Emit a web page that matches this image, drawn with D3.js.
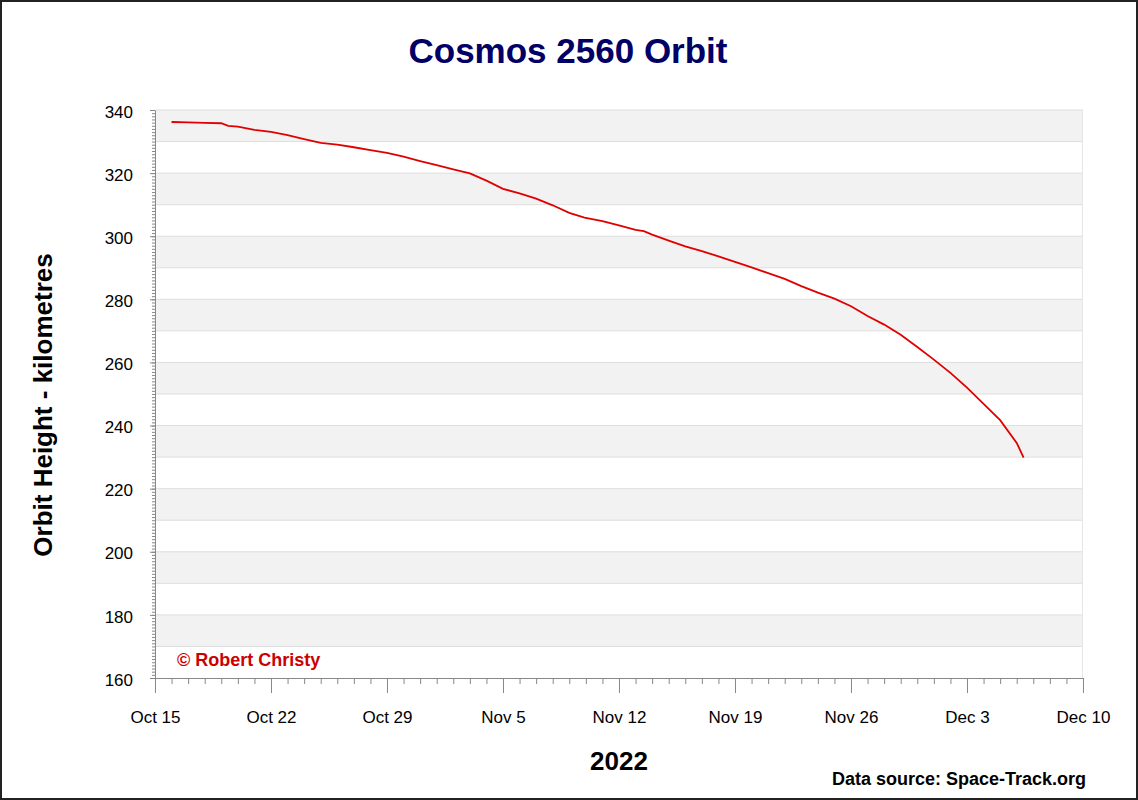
<!DOCTYPE html>
<html><head><meta charset="utf-8">
<script src="https://cdn.jsdelivr.net/npm/d3@7"></script>
<style>
html,body{margin:0;padding:0;background:#fff;}
svg{display:block;font-family:"Liberation Sans",Arial,sans-serif;}
</style></head>
<body>
<script>
const dates = ["2022-10-16T00:00","2022-10-17T00:00","2022-10-18T00:00","2022-10-19T00:00","2022-10-19T10:00","2022-10-20T00:00","2022-10-21T00:00","2022-10-22T00:00","2022-10-23T00:00","2022-10-24T00:00","2022-10-25T00:00","2022-10-26T00:00","2022-10-27T00:00","2022-10-28T00:00","2022-10-29T00:00","2022-10-30T00:00","2022-10-31T00:00","2022-11-01T00:00","2022-11-02T00:00","2022-11-03T00:00","2022-11-04T00:00","2022-11-05T00:00","2022-11-06T00:00","2022-11-07T00:00","2022-11-08T00:00","2022-11-09T00:00","2022-11-09T22:00","2022-11-11T00:00","2022-11-12T00:00","2022-11-13T00:00","2022-11-13T12:00","2022-11-14T00:00","2022-11-15T00:00","2022-11-16T00:00","2022-11-17T00:00","2022-11-18T00:00","2022-11-19T00:00","2022-11-20T00:00","2022-11-21T00:00","2022-11-22T00:00","2022-11-23T00:00","2022-11-24T00:00","2022-11-25T00:00","2022-11-26T00:00","2022-11-27T00:00","2022-11-28T00:00","2022-11-29T00:00","2022-11-30T00:00","2022-12-01T00:00","2022-12-02T00:00","2022-12-03T00:00","2022-12-04T00:00","2022-12-05T00:00","2022-12-06T00:00","2022-12-06T10:00"];
const heights = [336.2,336.1,335.9,335.8,335.0,334.7,333.7,333.1,332.0,330.8,329.6,329.0,328.2,327.3,326.4,325.2,323.8,322.5,321.2,319.9,317.6,315.0,313.6,311.9,309.8,307.4,305.9,304.8,303.4,302.0,301.6,300.5,298.6,296.8,295.3,293.6,291.9,290.1,288.3,286.5,284.2,282.1,280.2,277.8,274.7,272.0,268.8,264.9,260.9,256.7,252.0,246.9,241.7,234.5,229.8];
const xTickDates = ["2022-10-15","2022-10-22","2022-10-29","2022-11-05","2022-11-12","2022-11-19","2022-11-26","2022-12-03","2022-12-10"];
const xTickLabels = ["Oct 15","Oct 22","Oct 29","Nov 5","Nov 12","Nov 19","Nov 26","Dec 3","Dec 10"];
const yTicks = [160,180,200,220,240,260,280,300,320,340];
const titleText = "Cosmos 2560 Orbit";
const yLabel = "Orbit Height - kilometres";
const xLabel = "2022";
const credit = "© Robert Christy";
const source = "Data source: Space-Track.org";

const W = 1138, H = 800;
const L = 155, R = 1083, T = 110, B = 678;
const svg = d3.select("body").append("svg").attr("width", W).attr("height", H);
svg.append("rect").attr("x",1).attr("y",1).attr("width",W-2).attr("height",H-2)
  .attr("fill","#fff").attr("stroke","#222").attr("stroke-width",2);

const x = d3.scaleUtc().domain([new Date("2022-10-15T00:00Z"), new Date("2022-12-10T00:00Z")]).range([L, R]);
const y = d3.scaleLinear().domain([160, 340]).range([B, T]);

// bands
const bandStarts = d3.range(170, 340, 20);
svg.append("g").selectAll("rect").data(bandStarts).join("rect")
  .attr("x", L).attr("width", R - L)
  .attr("y", d => y(d + 10)).attr("height", d => y(d) - y(d + 10))
  .attr("fill", "#f2f2f2");
// grid lines
svg.append("g").selectAll("line").data(d3.range(170, 341, 10)).join("line")
  .attr("x1", L).attr("x2", R).attr("y1", d => y(d)).attr("y2", d => y(d))
  .attr("stroke", "#dedede").attr("stroke-width", 1);
svg.append("line").attr("x1", R - 0.5).attr("x2", R - 0.5).attr("y1", T).attr("y2", B)
  .attr("stroke", "#e6e6e6");

// y minor ticks
const yMinor = svg.append("g").attr("transform", `translate(${L},0)`)
  .call(d3.axisLeft(y).tickValues(d3.range(160, 341, 1)).tickSize(3).tickFormat(""));
yMinor.select(".domain").remove();
yMinor.selectAll("line").attr("stroke", "#888");
const yAxis = svg.append("g").attr("transform", `translate(${L},0)`)
  .call(d3.axisLeft(y).tickValues(yTicks).tickSize(5).tickPadding(17).tickSizeOuter(0));
yAxis.select(".domain").attr("stroke", "#888");
yAxis.selectAll("line").attr("stroke", "#888");
yAxis.selectAll("text").attr("font-size", 17).attr("fill", "#000").attr("dy", "0.42em").attr("font-family", "Liberation Sans, Arial");

// x minor ticks
const xMinor = svg.append("g").attr("transform", `translate(0,${B})`)
  .call(d3.axisBottom(x).ticks(d3.utcDay.every(1)).tickSize(6).tickFormat(""));
xMinor.select(".domain").remove();
xMinor.selectAll("line").attr("stroke", "#888");
const xAxis = svg.append("g").attr("transform", `translate(0,${B})`)
  .call(d3.axisBottom(x).tickValues(xTickDates.map(d => new Date(d + "T00:00Z")))
    .tickSize(15).tickPadding(18).tickSizeOuter(0)
    .tickFormat((d, i) => xTickLabels[i]));
xAxis.select(".domain").attr("stroke", "#888");
xAxis.selectAll("line").attr("stroke", "#888");
xAxis.selectAll("text").attr("font-size", 17).attr("fill", "#000").attr("font-family", "Liberation Sans, Arial");

// line
const data = dates.map((d, i) => ({date: new Date(d + "Z"), h: heights[i]}));
svg.append("path").datum(data)
  .attr("fill", "none").attr("stroke", "#e00000").attr("stroke-width", 1.8)
  .attr("d", d3.line().x(d => x(d.date)).y(d => y(d.h)));

// texts
svg.append("text").attr("x", 568).attr("y", 63).attr("text-anchor", "middle")
  .attr("font-size", 35).attr("font-weight", "bold").attr("fill", "#000066").text(titleText);
svg.append("text").attr("transform", "translate(52,405) rotate(-90)").attr("text-anchor", "middle")
  .attr("font-size", 26).attr("font-weight", "bold").attr("fill", "#000").text(yLabel);
svg.append("text").attr("x", 619).attr("y", 770).attr("text-anchor", "middle")
  .attr("font-size", 26).attr("font-weight", "bold").attr("fill", "#000").text(xLabel);
svg.append("text").attr("x", 177).attr("y", 666)
  .attr("font-size", 18).attr("font-weight", "bold").attr("fill", "#cc0000").text(credit);
svg.append("text").attr("x", 1086).attr("y", 785).attr("text-anchor", "end")
  .attr("font-size", 18).attr("font-weight", "bold").attr("fill", "#000").text(source);
</script>
</body></html>
